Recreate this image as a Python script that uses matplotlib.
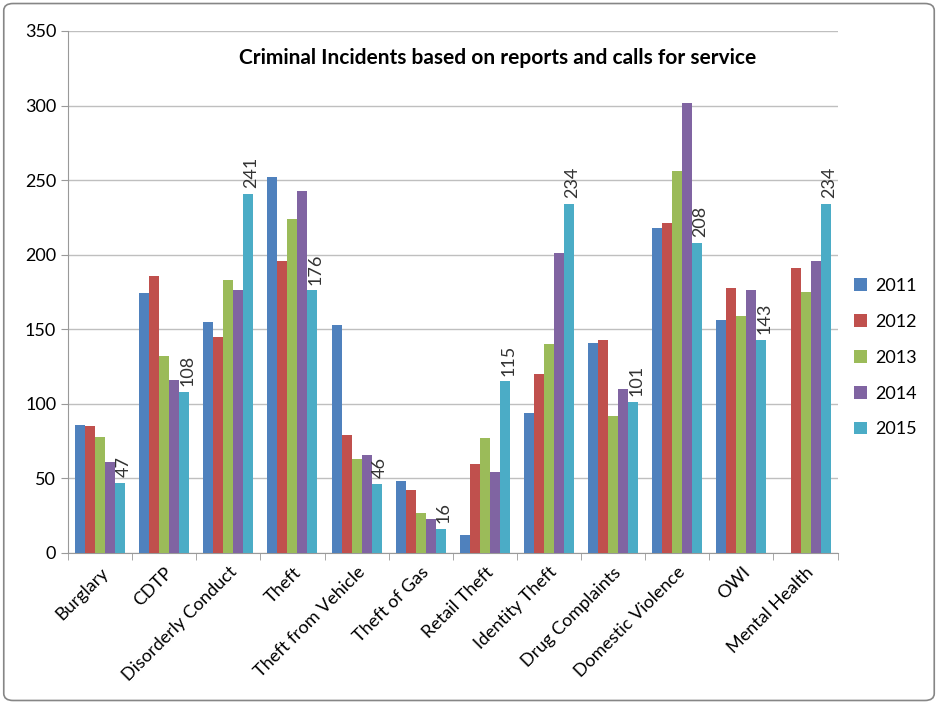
import numpy as np
import matplotlib
matplotlib.use('Agg')
from matplotlib import pyplot as plt
from matplotlib.patches import FancyBboxPatch

plt.rcParams['font.family'] = ['Lato', 'DejaVu Sans']

# 数据
categories = ['Burglary', 'CDTP', 'Disorderly Conduct', 'Theft', 'Theft from Vehicle',
              'Theft of Gas', 'Retail Theft', 'Identity Theft', 'Drug Complaints',
              'Domestic Violence', 'OWI', 'Mental Health']
years = ['2011', '2012', '2013', '2014', '2015']
v2011 = [86, 174, 155, 252, 153, 48, 12, 94, 141, 218, 156, 0]
v2012 = [85, 186, 145, 196, 79, 42, 60, 120, 143, 221, 178, 191]
v2013 = [78, 132, 183, 224, 63, 27, 77, 140, 92, 256, 159, 175]
v2014 = [61, 116, 176, 243, 66, 23, 54, 201, 110, 302, 176, 196]
v2015 = [47, 108, 241, 176, 46, 16, 115, 234, 101, 208, 143, 234]
series = [v2011, v2012, v2013, v2014, v2015]
colors = ['#4F81BD', '#C0504D', '#9BBB59', '#8064A2', '#4BACC6']

fig = plt.figure(figsize=(9.38, 7.04), dpi=100)
ax = fig.add_axes([0.0725, 0.2145, 0.8205, 0.7415])

x = np.arange(len(categories))
w = 0.156
for i, (vals, c) in enumerate(zip(series, colors)):
    pos = x + (i - 2) * w
    bars = ax.bar(pos, vals, width=w, color=c, label=years[i], zorder=3)
    # 只给2015年加数据标签
    if i == 4:
        for b, v in zip(bars, vals):
            ax.text(b.get_x() + b.get_width() / 2 + 0.05, v + 4, str(v), rotation=90,
                    ha='center', va='bottom', fontsize=13, color='#333333')

ax.set_xlim(-0.5, len(categories) - 0.5)
ax.set_ylim(0, 350)
ax.set_yticks(range(0, 351, 50))
ax.yaxis.grid(True, color='#BFBFBF', linewidth=1, zorder=0)
ax.set_xticks(x)
ax.set_xticklabels(categories, rotation=45, ha='right', rotation_mode='anchor', fontsize=13)
ax.set_xticks(np.arange(-0.5, len(categories), 1), minor=True)
ax.tick_params(axis='x', which='major', length=0, pad=8)
ax.tick_params(axis='x', which='minor', length=5, color='#999999')
ax.tick_params(axis='y', length=5, color='#999999', labelsize=13)
for s in ['top', 'right']:
    ax.spines[s].set_visible(False)
for s in ['left', 'bottom']:
    ax.spines[s].set_color('#999999')

fig.text(498 / 938, 1 - 58 / 704, 'Criminal Incidents based on reports and calls for service',
         ha='center', va='center', fontsize=15, fontweight='bold')

ax.legend(loc='center left', bbox_to_anchor=(1.0, 0.374), frameon=False, fontsize=13,
          handlelength=0.7, handleheight=0.7, labelspacing=1.1, handletextpad=0.5)

# 外边框
border = FancyBboxPatch((0.004, 0.005), 0.992, 0.99, boxstyle='round,pad=0,rounding_size=0.01',
                        transform=fig.transFigure, fill=False, edgecolor='#868686', linewidth=1.2)
fig.patches.append(border)

fig.savefig('out.png', dpi=100)
